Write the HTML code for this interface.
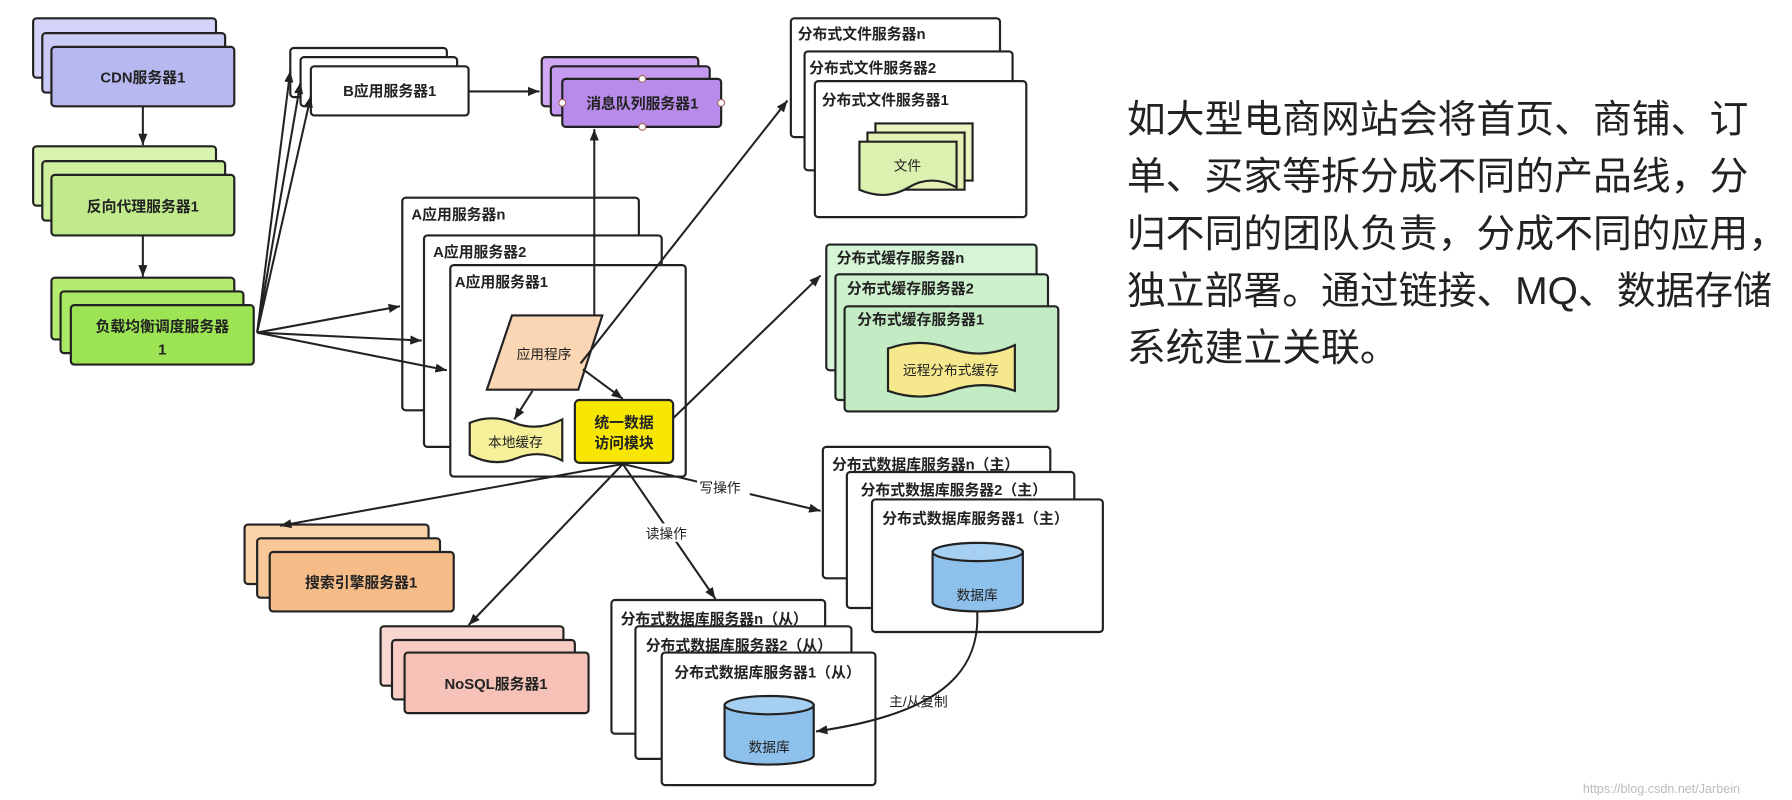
<!DOCTYPE html>
<html><head><meta charset="utf-8"><style>
html,body{margin:0;padding:0;background:#fff;}
svg{display:block;}
text{font-family:"Liberation Sans","Noto Sans CJK SC",sans-serif;fill:#222;}
.b{font-weight:bold;font-size:13px;}
.bx{stroke:#222;stroke-width:1.9;}
.ln{stroke:#222;stroke-width:1.8;fill:none;}
</style></head><body>
<svg width="1792" height="800" viewBox="0 0 1568 700" xmlns="http://www.w3.org/2000/svg">
<defs>
<marker id="a" viewBox="0 0 10 10" refX="10" refY="5" markerWidth="10" markerHeight="10" orient="auto" markerUnits="userSpaceOnUse"><path d="M0,1 L10,5 L0,9 z" fill="#222"/></marker>
</defs>
<rect width="1568" height="700" fill="#fff"/>

<rect class="bx" x="29" y="16" width="160" height="52" rx="3" fill="#d4d4fa"/>
<rect class="bx" x="37" y="29" width="160" height="52" rx="3" fill="#cacaf6"/>
<rect class="bx" x="45" y="41" width="160" height="52" rx="3" fill="#b8b8f0"/>
<text class="b" x="125" y="72" text-anchor="middle">CDN服务器1</text>
<line class="ln" x1="125" y1="93" x2="125" y2="127" marker-end="url(#a)"/>

<rect class="bx" x="29" y="128" width="160" height="52" rx="3" fill="#d8f4b0"/>
<rect class="bx" x="37" y="141" width="160" height="52" rx="3" fill="#cdef9e"/>
<rect class="bx" x="45" y="153" width="160" height="53" rx="3" fill="#c0ea8c"/>
<text class="b" x="125" y="185" text-anchor="middle">反向代理服务器1</text>
<line class="ln" x1="125" y1="206" x2="125" y2="242" marker-end="url(#a)"/>

<rect class="bx" x="45" y="243" width="160" height="54" rx="3" fill="#b4ec70"/>
<rect class="bx" x="53" y="255" width="160" height="54" rx="3" fill="#a8e862"/>
<rect class="bx" x="62" y="267" width="160" height="52" rx="3" fill="#9ce454"/>
<text class="b" x="142" y="290" text-anchor="middle">负载均衡调度服务器</text>
<text class="b" x="142" y="310" text-anchor="middle">1</text>

<rect class="bx" x="254" y="42" width="137" height="43" rx="3" fill="#fff"/>
<rect class="bx" x="263" y="50" width="137" height="43" rx="3" fill="#fff"/>
<rect class="bx" x="272" y="58" width="138" height="43" rx="3" fill="#fff"/>
<text class="b" x="341" y="84" text-anchor="middle">B应用服务器1</text>
<line class="ln" x1="225" y1="291" x2="254" y2="62" marker-end="url(#a)"/>
<line class="ln" x1="225" y1="291" x2="263" y2="72" marker-end="url(#a)"/>
<line class="ln" x1="225" y1="291" x2="272" y2="84" marker-end="url(#a)"/>
<line class="ln" x1="410" y1="80" x2="472" y2="80" marker-end="url(#a)"/>

<rect class="bx" x="474" y="50" width="137" height="43" rx="3" fill="#d0a8f4"/>
<rect class="bx" x="482" y="58" width="139" height="43" rx="3" fill="#c59af0"/>
<rect class="bx" x="492" y="69" width="139" height="42" rx="3" fill="#b88aea"/>
<text class="b" x="562" y="95" text-anchor="middle">消息队列服务器1</text>
<circle cx="562" cy="69" r="3" fill="#fff" stroke="#a66"/>
<circle cx="562" cy="111" r="3" fill="#fff" stroke="#a66"/>
<circle cx="492" cy="90" r="3" fill="#fff" stroke="#a66"/>
<circle cx="631" cy="90" r="3" fill="#fff" stroke="#a66"/>

<rect class="bx" x="352" y="173" width="207" height="186" rx="3" fill="#fff"/>
<text class="b" x="360" y="192">A应用服务器n</text>
<rect class="bx" x="371" y="206" width="208" height="185" rx="3" fill="#fff"/>
<text class="b" x="379" y="225">A应用服务器2</text>
<rect class="bx" x="394" y="232" width="206" height="185" rx="3" fill="#fff"/>
<text class="b" x="398" y="251">A应用服务器1</text>
<line class="ln" x1="225" y1="291" x2="350" y2="268" marker-end="url(#a)"/>
<line class="ln" x1="225" y1="291" x2="369" y2="298" marker-end="url(#a)"/>
<line class="ln" x1="225" y1="291" x2="391" y2="324" marker-end="url(#a)"/>

<line class="ln" x1="520" y1="276" x2="520" y2="113" marker-end="url(#a)"/>
<polygon class="bx" points="448,276 527,276 506,341 426,341" fill="#fad6b4"/>
<text x="476" y="314" font-size="12" text-anchor="middle">应用程序</text>
<line class="ln" x1="508" y1="318" x2="689" y2="88" marker-end="url(#a)"/>
<line class="ln" x1="510" y1="323" x2="545" y2="349" marker-end="url(#a)"/>
<line class="ln" x1="466" y1="342" x2="450" y2="367" marker-end="url(#a)"/>

<path class="bx" d="M411,370 Q430,362 450,370 Q470,378 492,367 L492,403 Q472,393 452,401 Q432,409 411,398 Z" fill="#f6f09a"/>
<text x="451" y="391" font-size="12" text-anchor="middle">本地缓存</text>
<rect class="bx" x="503" y="350" width="86" height="55" rx="4" fill="#f6e600"/>
<text class="b" x="546" y="374" text-anchor="middle">统一数据</text>
<text class="b" x="546" y="392" text-anchor="middle">访问模块</text>
<line class="ln" x1="589" y1="366" x2="718" y2="241" marker-end="url(#a)"/>

<rect class="bx" x="692" y="16" width="183" height="104" rx="3" fill="#fff"/>
<text class="b" x="698" y="34">分布式文件服务器n</text>
<rect class="bx" x="704" y="45" width="182" height="104" rx="3" fill="#fff"/>
<text class="b" x="708" y="64">分布式文件服务器2</text>
<rect class="bx" x="713" y="71" width="185" height="119" rx="3" fill="#fff"/>
<text class="b" x="719" y="92">分布式文件服务器1</text>
<path class="bx" d="M766,108 L851,108 L851,158 L766,158 Z" fill="#eef4c0"/>
<path class="bx" d="M759,116 L844,116 L844,166 L759,166 Z" fill="#e4f0b4"/>
<path class="bx" d="M752,124 L837,124 L837,164 Q815,152 795,164 Q775,176 752,166 Z" fill="#dcf0b0"/>
<text x="794" y="149" font-size="12" text-anchor="middle">文件</text>

<rect class="bx" x="723" y="214" width="184" height="110" rx="3" fill="#d6f4d6"/>
<text class="b" x="732" y="230">分布式缓存服务器n</text>
<rect class="bx" x="731" y="240" width="186" height="110" rx="3" fill="#cdf0cd"/>
<text class="b" x="741" y="257">分布式缓存服务器2</text>
<rect class="bx" x="739" y="268" width="187" height="92" rx="3" fill="#c4ecc4"/>
<text class="b" x="750" y="284">分布式缓存服务器1</text>
<path class="bx" d="M777,305 Q805,295 832,305 Q860,315 888,302 L888,342 Q860,332 832,342 Q805,352 777,342 Z" fill="#f6e88c"/>
<text x="832" y="328" font-size="12" text-anchor="middle">远程分布式缓存</text>

<rect class="bx" x="720" y="391" width="199" height="115" rx="3" fill="#fff"/>
<text class="b" x="728" y="411" font-size="12">分布式数据库服务器n（主）</text>
<rect class="bx" x="741" y="413" width="199" height="119" rx="3" fill="#fff"/>
<text class="b" x="753" y="433" font-size="12">分布式数据库服务器2（主）</text>
<rect class="bx" x="763" y="437" width="202" height="116" rx="3" fill="#fff"/>
<text class="b" x="772" y="458">分布式数据库服务器1（主）</text>
<path class="bx" d="M816,483 L816,527 A39.5,8 0 0 0 895,527 L895,483 Z" fill="#8ec0ec"/>
<ellipse class="bx" cx="855.5" cy="483" rx="39.5" ry="8" fill="#a6d0f2"/>
<text x="855" y="525" font-size="12" text-anchor="middle">数据库</text>

<rect class="bx" x="535" y="525" width="187" height="117" rx="3" fill="#fff"/>
<text class="b" x="543" y="546" font-size="12">分布式数据库服务器n（从）</text>
<rect class="bx" x="556" y="548" width="189" height="116" rx="3" fill="#fff"/>
<text class="b" x="565" y="569" font-size="12">分布式数据库服务器2（从）</text>
<rect class="bx" x="579" y="571" width="187" height="116" rx="3" fill="#fff"/>
<text class="b" x="590" y="593">分布式数据库服务器1（从）</text>
<path class="bx" d="M634,617 L634,661 A39,8 0 0 0 712,661 L712,617 Z" fill="#8ec0ec"/>
<ellipse class="bx" cx="673" cy="617" rx="39" ry="8" fill="#a6d0f2"/>
<text x="673" y="658" font-size="12" text-anchor="middle">数据库</text>
<path class="ln" d="M855,535 C858,590 820,625 714,640" marker-end="url(#a)"/>
<text x="778" y="618" font-size="12">主/从复制</text>

<rect class="bx" x="214" y="459" width="161" height="52" rx="3" fill="#fad2a8"/>
<rect class="bx" x="225" y="471" width="160" height="52" rx="3" fill="#f8c898"/>
<rect class="bx" x="236" y="483" width="161" height="52" rx="3" fill="#f6bc88"/>
<text class="b" x="316" y="514" text-anchor="middle">搜索引擎服务器1</text>
<rect class="bx" x="333" y="548" width="160" height="52" rx="3" fill="#fad6d0"/>
<rect class="bx" x="343" y="560" width="160" height="52" rx="3" fill="#f8ccc4"/>
<rect class="bx" x="354" y="571" width="161" height="53" rx="3" fill="#f6c2b8"/>
<text class="b" x="434" y="603" text-anchor="middle">NoSQL服务器1</text>

<line class="ln" x1="545" y1="406" x2="245" y2="460" marker-end="url(#a)"/>
<line class="ln" x1="545" y1="406" x2="410" y2="547" marker-end="url(#a)"/>
<line class="ln" x1="545" y1="406" x2="626" y2="524" marker-end="url(#a)"/>
<line class="ln" x1="545" y1="406" x2="718" y2="447" marker-end="url(#a)"/>
<rect x="610" y="418" width="46" height="16" fill="#fff"/>
<text x="612" y="431" font-size="12">写操作</text>
<rect x="563" y="458" width="46" height="16" fill="#fff"/>
<text x="565" y="471" font-size="12">读操作</text>

<g font-size="34">
<text x="986" y="116">如大型电商网站会将首页、商铺、订</text>
<text x="986" y="166">单、买家等拆分成不同的产品线，分</text>
<text x="986" y="216">归不同的团队负责，分成不同的应用，</text>
<text x="986" y="266">独立部署。通过链接、MQ、数据存储</text>
<text x="986" y="316">系统建立关联。</text>
</g>
<text x="1385" y="694" font-size="11" style="fill:#bbb">https://blog.csdn.net/Jarbein</text>
</svg>
</body></html>
